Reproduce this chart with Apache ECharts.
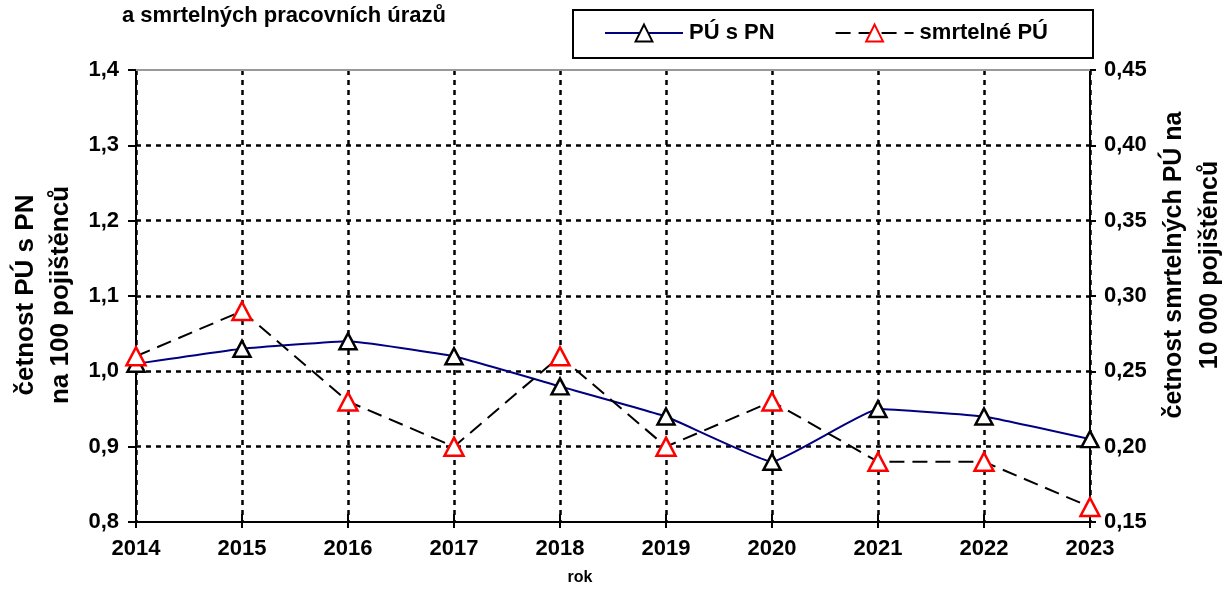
<!DOCTYPE html>
<html>
<head>
<meta charset="utf-8">
<script src="https://cdn.jsdelivr.net/npm/echarts@6/dist/echarts.min.js"></script>
<style>
html, body {margin: 0; padding: 0; background: #fff;}
#main {width: 1225px; height: 590px;}
</style>
</head>
<body>
<div id="main"></div>
<script>
var years    = ['2014', '2015', '2016', '2017', '2018', '2019', '2020', '2021', '2022', '2023'];
var puPN     = [1.01, 1.03, 1.04, 1.02, 0.98, 0.94, 0.88, 0.95, 0.94, 0.91];
var smrtelne = [0.26, 0.29, 0.23, 0.20, 0.26, 0.20, 0.23, 0.19, 0.19, 0.16];
var seriesNames = ['PÚ s PN', 'smrtelné PÚ'];

var fontFamily = '"Liberation Sans", Arial, sans-serif';
var labelStyle = {color: '#000', fontSize: 22, fontWeight: 'bold', fontFamily: fontFamily};
var gridDots   = {color: '#000', width: 2.5, type: [5, 5]};

function commaFormat(digits)
{
    return function(v) { return v.toFixed(digits).replace('.', ','); };
}

function drawChart(id)
{
    var chart = echarts.init(document.getElementById(id), null, {renderer: 'canvas'});
    var option = {
        animation: false,
        textStyle: {fontFamily: fontFamily},
        title: {
            text: 'a smrtelných pracovních úrazů',
            left: 122,
            top: 5,
            padding: 0,
            textStyle: {color: '#000', fontSize: 22, fontWeight: 'bold', fontFamily: fontFamily}
        },
        legend: {
            left: 604,
            top: 22,
            padding: 0,
            itemWidth: 78,
            itemHeight: 21,
            itemGap: 60,
            textStyle: Object.assign({padding: [0, 0, 0, 1]}, labelStyle),
            data: seriesNames
        },
        grid: {left: 136, right: 135, top: 70, bottom: 68, containLabel: false},
        xAxis: [
            {
                type: 'category',
                data: years,
                boundaryGap: false,
                axisLine: {lineStyle: {color: '#000', width: 2}},
                axisTick: {length: 6, lineStyle: {color: '#000', width: 2}},
                axisLabel: Object.assign({margin: 16}, labelStyle),
                splitLine: {show: true, lineStyle: gridDots}
            },
            {
                type: 'category',
                data: years,
                position: 'bottom',
                boundaryGap: false,
                axisLine: {show: false},
                axisTick: {inside: true, length: 8, lineStyle: {color: '#000', width: 2}},
                axisLabel: {show: false},
                splitLine: {show: false}
            },
            {
                type: 'category',
                data: years,
                position: 'top',
                boundaryGap: false,
                axisLine: {lineStyle: {color: '#999', width: 2}},
                axisTick: {show: false},
                axisLabel: {show: false},
                splitLine: {show: false}
            }
        ],
        yAxis: [
            {
                type: 'value',
                min: 0.8,
                max: 1.4,
                interval: 0.1,
                axisLine: {show: true, lineStyle: {color: '#000', width: 2}},
                axisTick: {show: true, length: 8, lineStyle: {color: '#000', width: 2}},
                axisLabel: Object.assign({margin: 17, formatter: commaFormat(1)}, labelStyle),
                splitLine: {show: true, showMaxLine: false, showMinLine: false, lineStyle: gridDots}
            },
            {
                type: 'value',
                min: 0.15,
                max: 0.45,
                interval: 0.05,
                axisLine: {show: true, lineStyle: {color: '#000', width: 2}},
                axisTick: {show: true, length: 6, lineStyle: {color: '#000', width: 2}},
                axisLabel: Object.assign({margin: 14, formatter: commaFormat(2)}, labelStyle),
                splitLine: {show: false}
            }
        ],
        graphic: [
            {
                type: 'rect',
                shape: {x: 573, y: 10, width: 520, height: 48},
                style: {fill: 'none', stroke: '#000', lineWidth: 2},
                z: 100
            },
            {
                type: 'text',
                x: 43,
                y: 295,
                rotation: Math.PI / 2,
                style: {
                    text: 'četnost PÚ s PN\nna 100 pojištěnců',
                    fill: '#000',
                    font: 'bold 26px ' + fontFamily,
                    align: 'center',
                    verticalAlign: 'middle',
                    lineHeight: 35
                }
            },
            {
                type: 'text',
                x: 1192,
                y: 265,
                rotation: Math.PI / 2,
                style: {
                    text: 'četnost smrtelných PÚ na\n10 000 pojištěnců',
                    fill: '#000',
                    font: 'bold 25px ' + fontFamily,
                    align: 'center',
                    verticalAlign: 'middle',
                    lineHeight: 36
                }
            },
            {
                type: 'text',
                x: 580,
                y: 578,
                style: {
                    text: 'rok',
                    fill: '#000',
                    font: 'bold 16px ' + fontFamily,
                    align: 'center',
                    verticalAlign: 'middle'
                }
            }
        ],
        series: [
            {
                name: seriesNames[0],
                type: 'line',
                data: puPN,
                smooth: 0.1,
                symbol: 'triangle',
                symbolSize: [17, 16],
                lineStyle: {color: '#000080', width: 2},
                itemStyle: {color: '#fff', borderColor: '#000', borderWidth: 2.5},
                z: 3
            },
            {
                name: seriesNames[1],
                type: 'line',
                data: smrtelne,
                yAxisIndex: 1,
                symbol: 'triangle',
                symbolSize: [19, 18],
                lineStyle: {color: '#000', width: 2, type: [15, 8]},
                itemStyle: {color: '#fff', borderColor: '#ff0000', borderWidth: 2.5},
                z: 4
            }
        ]
    };
    chart.setOption(option);
    return chart;
}

drawChart('main');
</script>
</body>
</html>
